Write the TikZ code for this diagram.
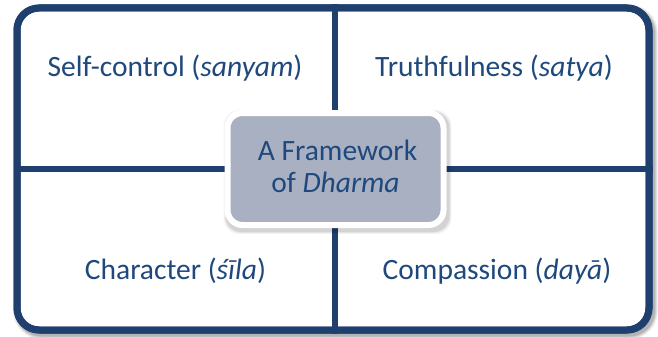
\documentclass[tikz,border=0pt]{standalone}
\usepackage{fontspec}
\setmainfont{Carlito}
\begin{document}
\definecolor{navy}{RGB}{31,63,110}
\definecolor{inkblue}{RGB}{31,73,125}
\definecolor{slate}{RGB}{169,176,194}
\begin{tikzpicture}[x=1pt,y=-1pt,
  label/.style={font=\fontsize{29.5}{32}\selectfont, text=inkblue, inner sep=0pt, anchor=base},
  frame/.style={draw=navy, line width=7pt, fill=white, rounded corners=22pt,
    minimum width=632pt, minimum height=322pt, inner sep=0pt},
  divider/.style={draw=navy, line width=6pt},
  hub/.style={draw=white, line width=6pt, fill=slate, rounded corners=15pt,
    minimum width=216pt, minimum height=112pt, inner sep=0pt, align=center,
    font=\fontsize{29.5}{32}\selectfont, text=inkblue}]
  \useasboundingbox (0,0) rectangle (658,337);
  % soft shadow behind the outer frame
  \foreach \w/\o in {13/0.05,11/0.07,9/0.09,7/0.12} {
    \draw[black, opacity=\o, line width=\w pt, rounded corners=22pt]
      (19.5,11) rectangle (651.5,333);
  }
  \node[frame] (frame) at (333,169) {};
  % dividers between the four quadrants
  \draw[divider] ([xshift=2pt]frame.north) -- ([xshift=2pt]frame.south);
  \draw[divider] (frame.west) -- (frame.east);
  % redraw the frame border over the divider ends
  \node[frame, fill=none] at (333,169) {};
  % quadrant labels
  \node[label] (self) at (175,77) {Self-control (\textit{sanyam})};
  \node[label] (truth) at (494,77) {Truthfulness (\textit{satya})};
  \node[label] (char) at (175.5,279) {Character (\textit{śīla})};
  \node[label] (comp) at (497,279) {Compassion (\textit{dayā})};
  % soft shadow behind the central box
  \foreach \w/\o in {12/0.04,10/0.06,8/0.08} {
    \fill[black, opacity=\o, rounded corners=16pt]
      ([xshift=-\w/2 pt+2pt, yshift=\w/2 pt-3pt]227.5,113) rectangle ([xshift=\w/2 pt+2pt, yshift=-\w/2 pt-3pt]443.5,225);
  }
  % the strut on the last line lifts the two lines slightly within the box
  \node[hub] (hub) at (335.5,169) {\hspace*{4pt}A Framework\\of \textit{Dharma}\rule[-6pt]{0pt}{6pt}};
\end{tikzpicture}
\end{document}
